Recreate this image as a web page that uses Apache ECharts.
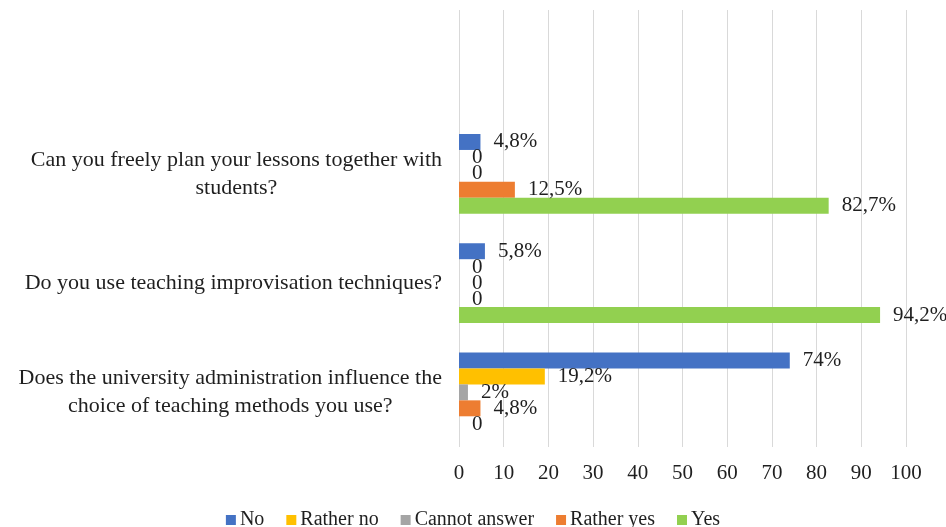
<!DOCTYPE html>
<html>
<head>
<meta charset="utf-8">
<script src="https://cdn.jsdelivr.net/npm/echarts@6/dist/echarts.min.js"></script>
<style>
  html, body { margin: 0; padding: 0; background: #fff; }
  #chart { width: 946px; height: 527px; }
</style>
</head>
<body>
<div id="chart"></div>
<script>
// categories, top to bottom (first one is the empty slot above the groups)
const questions = [
  '',
  'Can you freely plan your lessons together with\nstudents?',
  'Do you use teaching improvisation techniques?',
  'Does the university administration influence the\nchoice of teaching methods you use?'
]

const seriesNames = ['No', 'Rather no', 'Cannot answer', 'Rather yes', 'Yes']
const colors = ['#4472C4', '#FFC000', '#A5A5A5', '#ED7D31', '#92D050']

// percent per question (same order as questions)
const no           = [null, 4.8, 5.8, 74]
const ratherNo     = [null, 0, 0, 19.2]
const cannotAnswer = [null, 0, 0, 2]
const ratherYes    = [null, 12.5, 0, 4.8]
const yes          = [null, 82.7, 94.2, 0]

const xTicks = { min: 0, max: 100, interval: 10 }

const values = [no, ratherNo, cannotAnswer, ratherYes, yes]
const FONT = '"Liberation Serif", "Times New Roman", serif'
const INK = '#1f1f1f'

const chart = echarts.init(document.getElementById('chart'))

function fmtPct(v) {
  if (v === 0) return '0'
  return String(v).replace('.', ',') + '%'
}

chart.setOption({
  animation: false,
  backgroundColor: '#fff',
  textStyle: { fontFamily: FONT },
  grid: { left: 459, right: 40, top: 10, bottom: 80 },
  legend: {
    top: 505,
    left: 'center',
    itemWidth: 10, itemHeight: 10, itemGap: 22,
    icon: 'rect',
    data: seriesNames,
    textStyle: { fontFamily: FONT, fontSize: 20, color: INK, padding: [0, 0, 0, -1] },
  },
  xAxis: {
    type: 'value',
    min: xTicks.min, max: xTicks.max, interval: xTicks.interval,
    axisLine: { show: false },
    axisTick: { show: false },
    axisLabel: { fontFamily: FONT, fontSize: 21, color: INK, margin: 16 },
    splitLine: { lineStyle: { color: '#d9d9d9', width: 1 } },
  },
  yAxis: {
    type: 'category',
    inverse: true,
    data: questions,
    axisLine: { show: false },
    axisTick: { show: false },
    axisLabel: {
      margin: 17,
      align: 'right',
      formatter: v => v.split('\n').map(s => '{q|' + s + '}').join('\n'),
      rich: {
        q: { fontFamily: FONT, fontSize: 22, color: INK, align: 'center', lineHeight: 28 },
      },
    },
  },
  series: seriesNames.map((name, i) => ({
    name,
    type: 'bar',
    data: values[i],
    barGap: '0%',
    barCategoryGap: '27%',
    itemStyle: { color: colors[i] },
    label: {
      show: true,
      position: 'right',
      distance: 13,
      fontFamily: FONT, fontSize: 21, color: INK,
      formatter: p => fmtPct(p.value),
    },
  })),
})
</script>
</body>
</html>
